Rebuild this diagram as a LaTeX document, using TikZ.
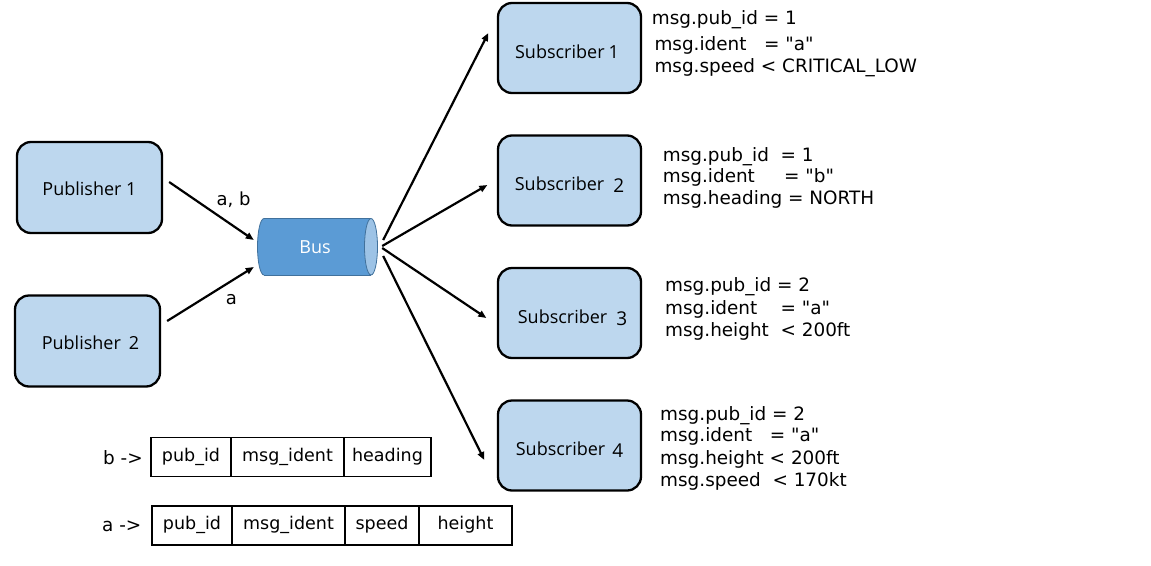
\documentclass[tikz,border=0pt]{standalone}
\usepackage{fontspec}
\setmainfont{DejaVu Sans}
\newfontfamily\boxfont{Open Sans}
\usetikzlibrary{arrows.meta}
\definecolor{boxblue}{HTML}{BDD7EE}
\definecolor{busbody}{HTML}{5B9BD5}
\definecolor{busend}{HTML}{9DC3E6}
\definecolor{busline}{HTML}{41719C}
\newcommand{\dqm}{\textquotedbl}
\begin{document}
\begin{tikzpicture}[x=1pt,y=-1pt,
  pbox/.style={draw=black, line width=2.3pt, rounded corners=14pt, fill=boxblue,
    minimum width=145pt, minimum height=91pt, inner sep=0pt, text height=16pt, text depth=0pt,
    font=\boxfont\fontsize{18}{20}\selectfont},
  sbox/.style={pbox, minimum width=143pt, minimum height=90pt, text height=20pt},
  msg/.style={anchor=base west, inner sep=0pt, font=\fontsize{18.4}{22}\selectfont},
  lbl/.style={anchor=base, inner sep=0pt, font=\fontsize{18}{22}\selectfont},
  cell/.style={draw=black, line width=1.6pt, inner sep=0pt, minimum height=39pt,
    text height=13pt, text depth=4.5pt, font=\fontsize{17.5}{20}\selectfont},
  arr/.style={line width=2.2pt, -{Triangle[length=8pt,width=6.5pt]}}
]
\useasboundingbox (0,0) rectangle (1151,565);

% publishers
\node[pbox] (p1) at (89.5,187.5) {Publisher 1};
\node[pbox] (p2) at (87.5,341) {\hspace*{6pt}Publisher\hspace{8pt}2};

% subscribers
\node[sbox] (s1) at (569.5,48) {Subscriber\hspace{4pt}1\hspace*{5pt}};
\node[sbox] (s2) at (569.5,180.5) {Subscriber\hspace{9pt}\raisebox{-2pt}{\fontsize{19}{20}\selectfont 2}};
\node[sbox] (s3) at (569.5,313) {\hspace*{6pt}Subscriber\hspace{9pt}\raisebox{-2pt}{\fontsize{19}{20}\selectfont 3}};
\node[sbox] (s4) at (569.5,445.5) {Subscriber\hspace{7pt}\raisebox{-1.5pt}{\fontsize{19}{20}\selectfont 4}};

% bus cylinder
\filldraw[fill=busbody, draw=busline, line width=0.8pt] (264,246.75) ellipse [x radius=6.5, y radius=28.25];
\fill[busbody] (264,218.5) rectangle (371,275);
\draw[busline, line width=0.8pt] (264,218.5) -- (371,218.5) (264,275) -- (371,275);
\filldraw[fill=busend, draw=busline, line width=0.8pt] (371,246.75) ellipse [x radius=6.5, y radius=28.25];
\node[minimum width=120pt, minimum height=56.5pt, inner sep=0pt, text=white,
  font=\boxfont\fontsize{18}{20}\selectfont] (bus) at (315,246.75) {Bus};

% publisher arrows
\draw[arr] ([shift={(6,-5.5)}]p1.east) -- ([shift={(-1,-6.75)}]bus.west);
\draw[arr] ([shift={(6,-20)}]p2.east) -- ([shift={(-1,20.25)}]bus.west);
\node[lbl] (lab) at (233.5,205) {a, b};
\node[lbl] (la) at (231.5,304.5) {a};

% bus to subscribers
\draw[arr] ([shift={(8,-6.75)}]bus.east) -- ([shift={(-8.5,-15)}]s1.west);
\draw[arr] ([shift={(7,-0.75)}]bus.east) -- ([shift={(-9.5,4.5)}]s2.west);
\draw[arr] ([shift={(7,1.25)}]bus.east) -- ([shift={(-10.5,5)}]s3.west);
\draw[arr] ([shift={(8,9.25)}]bus.east) -- ([shift={(-12.5,14.5)}]s4.west);

% filter texts
\node[msg] (t11) at (651.7,24.3) {msg.pub\_id = 1};
\node[msg] (t12) at (654.3,50) {msg.ident\ \ \ = \dqm a\dqm};
\node[msg] (t13) at (654.3,72.3) {msg.speed < CRITICAL\_LOW};

\node[msg] (t21) at (662.7,161.7) {msg.pub\_id\ \ = 1};
\node[msg] (t22) at (662.7,182.7) {msg.ident\ \ \ \ \ = \dqm b\dqm};
\node[msg] (t23) at (662.7,204) {msg.heading = NORTH};

\node[msg] (t31) at (665,291.7) {msg.pub\_id = 2};
\node[msg] (t32) at (665,314) {msg.ident\ \ \ \ = \dqm a\dqm};
\node[msg] (t33) at (665,336) {msg.height\ \ < 200ft};

\node[msg] (t41) at (660,420.7) {msg.pub\_id = 2};
\node[msg] (t42) at (660,441.7) {msg.ident\ \ \ = \dqm a\dqm};
\node[msg] (t43) at (660,464) {msg.height < 200ft};
\node[msg] (t44) at (660,486) {msg.speed\ \ < 170kt};

% message layouts
\node[msg] (bl) at (103,464.5) {b ->};
\node[cell, minimum width=80pt] (b1) at (191,457) {pub\_id};
\node[cell, minimum width=113pt] (b2) at (287.5,457) {msg\_ident};
\node[cell, minimum width=87pt] (b3) at (387.5,457) {heading};

\node[msg] (al) at (102,531) {a ->};
\node[cell, minimum width=80pt] (a1) at (192,525.5) {pub\_id};
\node[cell, minimum width=113pt] (a2) at (288.5,525.5) {msg\_ident};
\node[cell, minimum width=74pt] (a3) at (382,525.5) {speed};
\node[cell, minimum width=93pt] (a4) at (465.5,525.5) {height};
\end{tikzpicture}
\end{document}
